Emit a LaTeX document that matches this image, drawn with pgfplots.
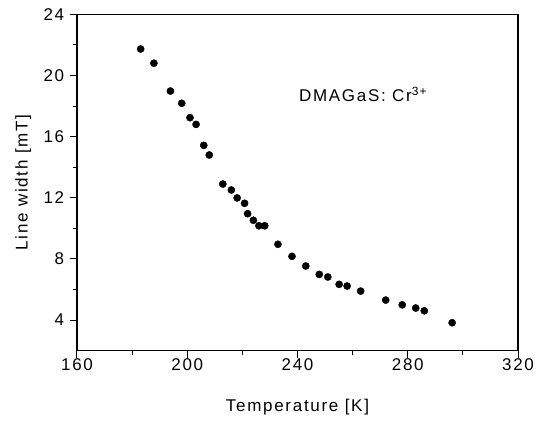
\documentclass[border=0pt]{standalone}
\usepackage{fontspec}
\setmainfont[LetterSpace=10]{Liberation Sans}
\usepackage{pgfplots}
\pgfplotsset{compat=1.18}

\begin{document}
\fontsize{17pt}{20pt}\selectfont
\begin{tikzpicture}
\begin{axis}[
  scale only axis,
  width=441pt, height=336.4pt,
  xmin=160, xmax=320,
  ymin=2, ymax=24,
  xtick={160,200,...,320},
  ytick={4,8,...,24},
  minor x tick num=1,
  minor y tick num=1,
  xtick pos=bottom, ytick pos=left,
  tick align=outside,
  major tick length=7pt,
  minor tick length=4pt,
  every tick/.style={black, line width=1pt},
  axis line style={line width=1.2pt},
  /pgf/number format/assume math mode=true,
  ticklabel style={font=\fontsize{17pt}{20pt}\selectfont},
  xticklabel style={yshift=5pt},
  xlabel={Temperature [K]},
  ylabel={Line width [mT]},
  label style={font=\fontsize{17pt}{20pt}\selectfont},
  xlabel style={at={(axis description cs:0.5,-0.1665)}, anchor=center},
  ylabel style={at={(axis description cs:-0.122,0.5)}, anchor=center},
  clip=false,
]
\addplot[only marks, mark=*, mark size=3.6pt, black] coordinates {
  (183.1,21.73) (187.9,20.80) (193.9,18.98) (198.0,18.18) (201.0,17.24)
  (203.2,16.80) (206.0,15.43) (208.0,14.80) (212.9,12.90) (216.0,12.51)
  (218.1,11.99) (220.8,11.64) (221.9,10.96) (224.0,10.53) (226.0,10.17)
  (228.1,10.17) (232.9,8.96) (238.0,8.17) (243.0,7.54) (247.9,6.99)
  (251.0,6.82) (255.1,6.34) (258.0,6.23) (262.9,5.90) (272.0,5.31)
  (278.0,5.00) (282.9,4.79) (286.0,4.61) (296.1,3.83)
};
\node[anchor=base west, inner sep=0pt] at (axis cs:240.5,18.28) {DMAGaS: Cr\textsuperscript{3+}};
\end{axis}
\pgfresetboundingbox
\path ([xshift=-77pt,yshift=-70.3pt]current axis.south west) rectangle ([xshift=18pt,yshift=14.3pt]current axis.north east);
\end{tikzpicture}
\end{document}
